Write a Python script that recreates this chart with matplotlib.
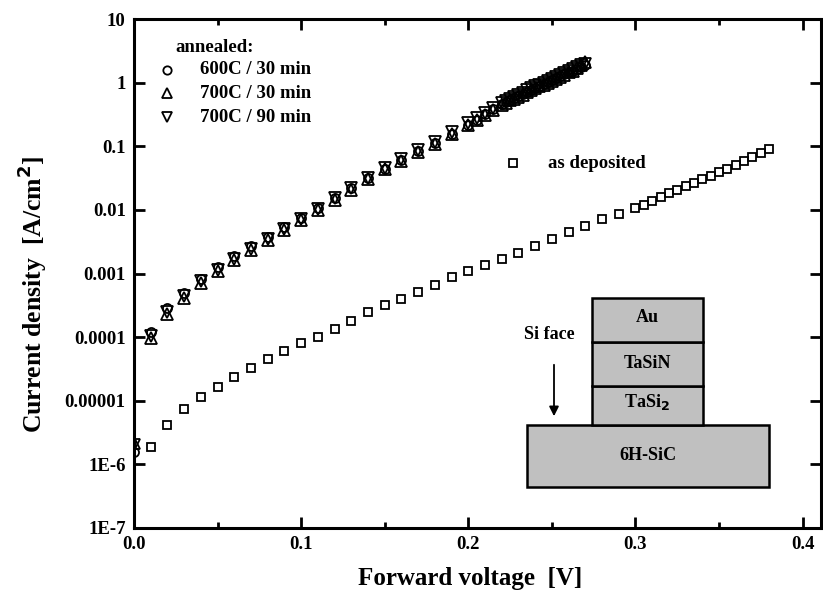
import matplotlib
matplotlib.use("Agg")
import matplotlib.pyplot as plt
import numpy as np
from matplotlib.patches import Rectangle
from matplotlib.ticker import FixedLocator, FixedFormatter, MultipleLocator

plt.rcParams['font.family'] = ['Liberation Serif', 'DejaVu Serif']
plt.rcParams['font.weight'] = 'bold'

# ---- data ----
v_dep = [0.01, 0.02, 0.03, 0.04, 0.05, 0.06, 0.07, 0.08, 0.09, 0.10,
         0.11, 0.12, 0.13, 0.14, 0.15, 0.16, 0.17, 0.18, 0.19, 0.20,
         0.21, 0.22, 0.23, 0.24, 0.25, 0.26, 0.27, 0.28, 0.29, 0.30,
         0.305, 0.31, 0.315, 0.32, 0.325, 0.33, 0.335, 0.34, 0.345,
         0.35, 0.355, 0.36, 0.365, 0.37, 0.375, 0.38]
log_dep = [-5.73, -5.38, -5.13, -4.94, -4.79, -4.63, -4.49, -4.35, -4.22, -4.09,
           -4.00, -3.87, -3.75, -3.61, -3.50, -3.40, -3.29, -3.18, -3.06, -2.96,
           -2.87, -2.77, -2.68, -2.56, -2.46, -2.35, -2.25, -2.15, -2.06, -1.97,
           -1.92, -1.86, -1.80, -1.74, -1.69, -1.63, -1.57, -1.52, -1.46,
           -1.40, -1.35, -1.29, -1.23, -1.17, -1.11, -1.05]

v_ann = [0.00, 0.01, 0.02, 0.03, 0.04, 0.05, 0.06, 0.07, 0.08, 0.09, 0.10,
         0.11, 0.12, 0.13, 0.14, 0.15, 0.16, 0.17, 0.18, 0.19, 0.20,
         0.205, 0.21, 0.215, 0.22, 0.2225, 0.225, 0.2275, 0.23, 0.2325, 0.235,
         0.2375, 0.24, 0.2425, 0.245, 0.2475, 0.25, 0.2525, 0.255, 0.2575,
         0.26, 0.2625, 0.265, 0.2675, 0.27]
log_600_30 = [-5.81, -3.92, -3.55, -3.30, -3.08, -2.90, -2.73, -2.57, -2.42, -2.27, -2.12,
              -1.97, -1.82, -1.66, -1.50, -1.35, -1.22, -1.08, -0.95, -0.80, -0.66,
              -0.58, -0.50, -0.42, -0.34, -0.31, -0.27, -0.24, -0.21, -0.18, -0.14,
              -0.11, -0.08, -0.05, -0.02, 0.01, 0.04, 0.07, 0.10, 0.13,
              0.16, 0.19, 0.22, 0.25, 0.28]
log_700_30 = [-5.67, -4.02, -3.63, -3.38, -3.15, -2.96, -2.79, -2.63, -2.47, -2.32, -2.16,
              -2.00, -1.84, -1.68, -1.52, -1.36, -1.23, -1.09, -0.96, -0.81, -0.67,
              -0.59, -0.51, -0.43, -0.35, -0.32, -0.28, -0.25, -0.22, -0.19, -0.15,
              -0.12, -0.09, -0.06, -0.03, 0.00, 0.03, 0.06, 0.09, 0.12,
              0.16, 0.19, 0.23, 0.27, 0.32]
log_700_90 = [-5.70, -3.98, -3.60, -3.35, -3.12, -2.94, -2.77, -2.61, -2.45, -2.30, -2.14,
              -1.98, -1.82, -1.66, -1.50, -1.34, -1.20, -1.06, -0.93, -0.78, -0.64,
              -0.56, -0.48, -0.40, -0.32, -0.29, -0.25, -0.22, -0.19, -0.16, -0.12,
              -0.09, -0.06, -0.03, 0.00, 0.03, 0.06, 0.09, 0.12, 0.15,
              0.18, 0.21, 0.24, 0.27, 0.30]

x_ticks = [0.0, 0.1, 0.2, 0.3, 0.4]
x_ticklabels = ["0.0", "0.1", "0.2", "0.3", "0.4"]
y_ticks = [1e-7, 1e-6, 1e-5, 1e-4, 1e-3, 1e-2, 1e-1, 1, 10]
y_ticklabels = ["1E-7", "1E-6", "0.00001", "0.0001", "0.001", "0.01", "0.1", "1", "10"]

# ---- figure ----
W, H = 823, 597
fig = plt.figure(figsize=(W / 100, H / 100), dpi=100)
ax = fig.add_axes([134 / W, 1 - 528 / H, (821 - 134) / W, (528 - 19) / H])

mk = dict(linestyle='none', markerfacecolor='none', markeredgecolor='black',
          markeredgewidth=1.3)
ax.plot(v_dep, 10 ** np.array(log_dep), marker='s', markersize=6, **mk)
ax.plot(v_ann, 10 ** np.array(log_600_30), marker='o', markersize=6.5, **mk)
ax.plot(v_ann, 10 ** np.array(log_700_30), marker='^', markersize=8, **mk)
ax.plot(v_ann, 10 ** np.array(log_700_90), marker='v', markersize=8, **mk)

ax.set_yscale('log')
ax.set_xlim(0, 0.411)
ax.set_ylim(1e-7, 10)

ax.xaxis.set_major_locator(FixedLocator(x_ticks))
ax.xaxis.set_major_formatter(FixedFormatter(x_ticklabels))
ax.xaxis.set_minor_locator(MultipleLocator(0.05))
ax.yaxis.set_major_locator(FixedLocator(y_ticks))
ax.yaxis.set_major_formatter(FixedFormatter(y_ticklabels))
ax.yaxis.set_minor_locator(FixedLocator([]))

ax.tick_params(which='both', direction='in', top=True, right=True, width=2)
ax.tick_params(which='major', length=8, labelsize=13.5, pad=6)
ax.tick_params(which='minor', length=4)
for lab in ax.get_xticklabels() + ax.get_yticklabels():
    lab.set_fontweight('bold')
for s in ax.spines.values():
    s.set_linewidth(2.2)

xl = ax.set_xlabel("Forward voltage  [V]", fontsize=18, fontweight='bold')
yl = ax.set_ylabel("Current density  [A/cm$^\\mathbf{2}$]", fontsize=18.5, fontweight='bold')
xl.set_verticalalignment('center')
yl.set_verticalalignment('center')
ax.xaxis.set_label_coords((470 - 134) / 687, (528 - 578) / 509)
ax.yaxis.set_label_coords((32 - 134) / 687, (528 - 294) / 509)

# ---- legend (manual) ----
def px(x, y):
    return (x / W, 1 - y / H)

fig.text(*px(175, 48), "annealed:", fontsize=13.5, fontweight='bold', va='center')
leg = [('o', "600C / 30 min", 70), ('^', "700C / 30 min", 93), ('v', "700C / 90 min", 117)]
for m, t, yy in leg:
    fig.lines.append(plt.Line2D([167 / W], [1 - yy / H], transform=fig.transFigure,
                                marker=m, markersize=7 if m != 'o' else 6,
                                markerfacecolor='none', markeredgecolor='black',
                                markeredgewidth=1.3, linestyle='none'))
    fig.text(*px(200, yy), t, fontsize=13.5, fontweight='bold', va='center')

fig.lines.append(plt.Line2D([513 / W], [1 - 163 / H], transform=fig.transFigure,
                            marker='s', markersize=6, markerfacecolor='none',
                            markeredgecolor='black', markeredgewidth=1.3, linestyle='none'))
fig.text(*px(548, 163), "as deposited", fontsize=13.5, fontweight='bold', va='center')

# ---- schematic inset ----
def rect(x0, y0, x1, y1):
    return Rectangle((x0 / W, 1 - y1 / H), (x1 - x0) / W, (y1 - y0) / H,
                     transform=fig.transFigure, facecolor='#c0c0c0',
                     edgecolor='black', linewidth=1.8)

for (x0, y0, x1, y1) in [(527, 425, 769, 487), (592, 386, 703, 425),
                         (592, 342, 703, 386), (592, 298, 703, 342)]:
    fig.patches.append(rect(x0, y0, x1, y1))

fig.text(*px(648, 456), "6H-SiC", fontsize=13, fontweight='bold', ha='center', va='center')
fig.text(*px(647, 402), "TaSi$_\\mathbf{2}$", fontsize=13, fontweight='bold', ha='center', va='center')
fig.text(*px(647, 364), "TaSiN", fontsize=13, fontweight='bold', ha='center', va='center')
fig.text(*px(647, 318), "Au", fontsize=13, fontweight='bold', ha='center', va='center')
fig.text(*px(549, 335), "Si face", fontsize=13, fontweight='bold', ha='center', va='center')
ax.annotate("", xy=px(554, 419), xytext=px(554, 362), xycoords='figure fraction',
            textcoords='figure fraction',
            arrowprops=dict(arrowstyle='-|>', color='black', lw=1.3, mutation_scale=14))

fig.savefig("out.png", dpi=100)
